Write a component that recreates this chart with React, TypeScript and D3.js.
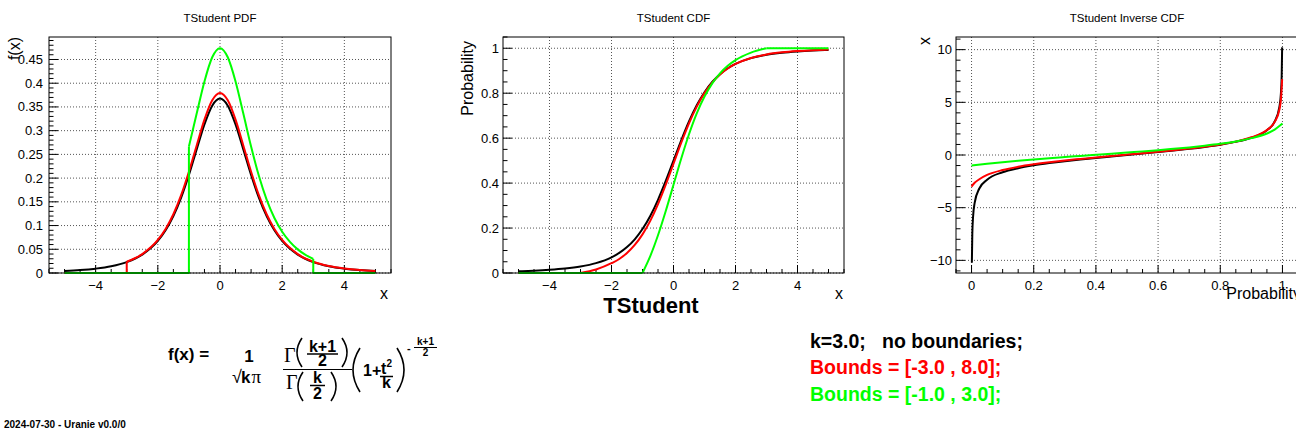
import React from 'react';
import * as d3 from 'd3';

// ---------------- DATA ----------------
const xRange = [-5, 5];
const redBounds = [-3, 8];
const greenBounds = [-1, 3];

// PDF (black: k=3, no boundaries)
const pdfX = [-5, -4.5, -4, -3.5, -3, -2.5, -2, -1.75, -1.5, -1.25, -1, -0.75, -0.5, -0.25, 0, 0.25, 0.5, 0.75, 1, 1.25, 1.5, 1.75, 2, 2.5, 3, 3.5, 4, 4.5, 5];
const pdfBlack = [0.0042, 0.0061, 0.0092, 0.0142, 0.0230, 0.0387, 0.0675, 0.0900, 0.1200, 0.1589, 0.2067, 0.2606, 0.3132, 0.3527, 0.3676, 0.3527, 0.3132, 0.2606, 0.2067, 0.1589, 0.1200, 0.0900, 0.0675, 0.0387, 0.0230, 0.0142, 0.0092, 0.0061, 0.0042];
const pdfRedX = [-3, -2.5, -2, -1.75, -1.5, -1.25, -1, -0.75, -0.5, -0.25, 0, 0.25, 0.5, 0.75, 1, 1.25, 1.5, 1.75, 2, 2.5, 3, 3.5, 4, 4.5, 5];
const pdfRed = [0.0237, 0.0399, 0.0696, 0.0929, 0.1238, 0.1640, 0.2133, 0.2689, 0.3232, 0.3639, 0.3793, 0.3639, 0.3232, 0.2689, 0.2133, 0.1640, 0.1238, 0.0929, 0.0696, 0.0399, 0.0237, 0.0147, 0.0095, 0.0063, 0.0044];
const pdfGreenX = [-1, -0.75, -0.5, -0.25, 0, 0.25, 0.5, 0.75, 1, 1.25, 1.5, 1.75, 2, 2.25, 2.5, 2.75, 3];
const pdfGreen = [0.2665, 0.3360, 0.4038, 0.4547, 0.4738, 0.4547, 0.4038, 0.3360, 0.2665, 0.2048, 0.1547, 0.1160, 0.0870, 0.0656, 0.0498, 0.0382, 0.0296];

// CDF
const cdfX = pdfX;
const cdfBlack = [0.0077, 0.0102, 0.0140, 0.0197, 0.0288, 0.0439, 0.0697, 0.0892, 0.1153, 0.1499, 0.1955, 0.2537, 0.3257, 0.4094, 0.5, 0.5906, 0.6743, 0.7463, 0.8045, 0.8501, 0.8847, 0.9108, 0.9303, 0.9561, 0.9712, 0.9803, 0.9860, 0.9898, 0.9923];
const cdfRedX = pdfRedX;
const cdfRed = [0, 0.0156, 0.0435, 0.0623, 0.0892, 0.1249, 0.1720, 0.2320, 0.3063, 0.3927, 0.4862, 0.5797, 0.6660, 0.7403, 0.8003, 0.8474, 0.8831, 0.9100, 0.9301, 0.9568, 0.9723, 0.9817, 0.9876, 0.9915, 0.9941];
const cdfGreenX = [-1, -0.75, -0.5, -0.25, 0, 0.25, 0.5, 0.75, 1, 1.25, 1.5, 1.75, 2, 2.5, 3];
const cdfGreen = [0, 0.0750, 0.1678, 0.2758, 0.3925, 0.5094, 0.6172, 0.7101, 0.7851, 0.8439, 0.8885, 0.9221, 0.9473, 0.9805, 1.0];

// Inverse CDF
const invBlackP = [0.001, 0.0025, 0.005, 0.01, 0.025, 0.05, 0.1, 0.15, 0.2, 0.25, 0.3, 0.35, 0.4, 0.45, 0.5, 0.55, 0.6, 0.65, 0.7, 0.75, 0.8, 0.85, 0.9, 0.95, 0.975, 0.99, 0.995, 0.9975, 0.999];
const invBlack = [-10.215, -7.453, -5.841, -4.541, -3.182, -2.353, -1.638, -1.25, -0.978, -0.765, -0.584, -0.424, -0.277, -0.137, 0, 0.137, 0.277, 0.424, 0.584, 0.765, 0.978, 1.25, 1.638, 2.353, 3.182, 4.541, 5.841, 7.453, 10.215];
const invRedP = [0, 0.005, 0.01, 0.025, 0.05, 0.1, 0.15, 0.2, 0.25, 0.3, 0.35, 0.4, 0.45, 0.5, 0.55, 0.6, 0.65, 0.7, 0.75, 0.8, 0.85, 0.9, 0.95, 0.975, 0.99, 0.995, 0.999];
const invRed = [-3, -2.8, -2.64, -2.3, -1.895, -1.425, -1.117, -0.884, -0.69, -0.521, -0.374, -0.23, -0.097, 0.037, 0.171, 0.309, 0.454, 0.614, 0.79, 1.0, 1.268, 1.68, 2.37, 3.14, 4.3, 5.25, 7.2];
const invGreenP = [0, 0.05, 0.1, 0.15, 0.2, 0.25, 0.3, 0.35, 0.4, 0.45, 0.5, 0.55, 0.6, 0.65, 0.7, 0.75, 0.8, 0.85, 0.9, 0.95, 0.975, 0.99, 1];
const invGreen = [-1, -0.833, -0.683, -0.548, -0.426, -0.31, -0.198, -0.091, 0.016, 0.123, 0.232, 0.344, 0.46, 0.588, 0.723, 0.883, 1.064, 1.284, 1.6, 2.04, 2.41, 2.745, 3];

// Ticks
const tTicks = [-4, -2, 0, 2, 4];
const pdfYTicks = [0, 0.05, 0.1, 0.15, 0.2, 0.25, 0.3, 0.35, 0.4, 0.45];
const cdfYTicks = [0, 0.2, 0.4, 0.6, 0.8, 1];
const invXTicks = [0, 0.2, 0.4, 0.6, 0.8, 1];
const invYTicks = [-10, -5, 0, 5, 10];

const titles = ['TStudent PDF', 'TStudent CDF', 'TStudent Inverse CDF'];
const legendLines = ['k=3.0;   no boundaries;', 'Bounds = [-3.0 , 8.0];', 'Bounds = [-1.0 , 3.0];'];
const stamp = '2024-07-30 - Uranie v0.0/0';

// ---------------- DRAWING ----------------
const FONT = "'Liberation Sans', Arial, Helvetica, sans-serif";
const SERIF = "'Liberation Serif', 'Times New Roman', serif";
const RED = '#ff0000';
const GREEN = '#00ff00';

type Pt = [number, number];
type Series = { color: string; smooth: Pt[]; lin?: Pt[][] };

const zip = (xs: number[], ys: number[]): Pt[] => xs.map((x, i) => [x, ys[i]] as Pt);
const fmtNum = (v: number) => (v < 0 ? '\u2212' + String(-v) : String(v));

interface PanelProps {
  x0: number; x1: number; y0: number; y1: number;
  xDom: [number, number]; yDom: [number, number];
  xTicks: number[]; xMinor: number; yTicks: number[]; yMinor: number;
  labelGap: number;
  series: Series[];
  title: string;
  clipId?: string;
}

function Panel(p: PanelProps) {
  const xs = d3.scaleLinear().domain(p.xDom).range([p.x0, p.x1]);
  const ys = d3.scaleLinear().domain(p.yDom).range([p.y1, p.y0]);
  const smoothLine = d3.line<Pt>().x(d => xs(d[0])).y(d => ys(d[1])).curve(d3.curveMonotoneX);
  const linLine = d3.line<Pt>().x(d => xs(d[0])).y(d => ys(d[1]));
  const eps = 1e-9;
  const xMinors = d3.range(Math.ceil(p.xDom[0] / p.xMinor - eps) * p.xMinor, p.xDom[1] + eps, p.xMinor);
  const yMinors = d3.range(Math.ceil(p.yDom[0] / p.yMinor - eps) * p.yMinor, p.yDom[1] + eps, p.yMinor);
  const isMajor = (v: number, arr: number[]) => arr.some(t => Math.abs(t - v) < 1e-6);
  return (
    <g clipPath={p.clipId ? `url(#${p.clipId})` : undefined}>
      <text x={(p.x0 + p.x1) / 2} y={22} textAnchor="middle" fontFamily={FONT} fontSize={11.5} fill="#000">{p.title}</text>
      {p.xTicks.map(t => (
        <line key={'gx' + t} x1={xs(t)} x2={xs(t)} y1={p.y0} y2={p.y1} stroke="#555" strokeWidth={1} strokeDasharray="1 2" />
      ))}
      {p.yTicks.map(t => (
        <line key={'gy' + t} x1={p.x0} x2={p.x1} y1={ys(t)} y2={ys(t)} stroke="#555" strokeWidth={1} strokeDasharray="1 2" />
      ))}
      {xMinors.filter(v => !isMajor(v, p.xTicks)).map((v, i) => (
        <line key={'mx' + i} x1={xs(v)} x2={xs(v)} y1={p.y1} y2={p.y1 - 4} stroke="#000" strokeWidth={1} />
      ))}
      {yMinors.filter(v => !isMajor(v, p.yTicks)).map((v, i) => (
        <line key={'my' + i} x1={p.x0} x2={p.x0 + 4.5} y1={ys(v)} y2={ys(v)} stroke="#000" strokeWidth={1} />
      ))}
      {p.xTicks.map(t => (
        <line key={'tx' + t} x1={xs(t)} x2={xs(t)} y1={p.y1} y2={p.y1 - 8} stroke="#000" strokeWidth={1} />
      ))}
      {p.yTicks.map(t => (
        <line key={'ty' + t} x1={p.x0} x2={p.x0 + 9} y1={ys(t)} y2={ys(t)} stroke="#000" strokeWidth={1} />
      ))}
      {p.xTicks.map(t => (
        <text key={'lx' + t} x={xs(t)} y={p.y1 + 17} textAnchor="middle" fontFamily={FONT} fontSize={13} fill="#000">{fmtNum(t)}</text>
      ))}
      {p.yTicks.map(t => (
        <text key={'ly' + t} x={p.x0 - p.labelGap} y={ys(t) + 4.5} textAnchor="end" fontFamily={FONT} fontSize={13} fill="#000">{fmtNum(t)}</text>
      ))}
      {p.series.map((s, i) => (
        <g key={'s' + i} fill="none" stroke={s.color} strokeWidth={2} strokeLinejoin="round">
          {(s.lin || []).map((seg, j) => <path key={j} d={linLine(seg) || ''} />)}
          <path d={smoothLine(s.smooth) || ''} />
        </g>
      ))}
      <rect x={p.x0} y={p.y0} width={p.x1 - p.x0} height={p.y1 - p.y0} fill="none" stroke="#000" strokeWidth={1} />
    </g>
  );
}

// tall thin parenthesis: xi = inner x (ends), xo = outer x (bulge)
function Paren({ xi, xo, y0, y1 }: { xi: number; xo: number; y0: number; y1: number }) {
  const ctrl = 2 * xo - xi;
  return <path d={`M${xi},${y0} Q${ctrl},${(y0 + y1) / 2} ${xi},${y1}`} fill="none" stroke="#000" strokeWidth={1.6} />;
}

function Formula() {
  return (
    <g fontFamily={FONT} fontWeight="bold" fill="#000">
      <text x={168} y={360} fontSize={17}>f(x) =</text>
      <text x={249} y={362} fontSize={17} textAnchor="middle">1</text>
      <text x={232} y={383} fontSize={18} fontWeight="normal">{'\u221A'}</text>
      <text x={241} y={383} fontSize={17}>k</text>
      <text x={251.5} y={383} fontSize={19} fontFamily={SERIF} fontWeight="normal">{'\u03C0'}</text>

      {/* numerator: Gamma((k+1)/2) */}
      <text x={284} y={362} fontSize={20} fontFamily={SERIF} fontWeight="normal">{'\u0393'}</text>
      <Paren xi={302} xo={297} y0={338} y1={367} />
      <text x={322.5} y={351.5} fontSize={16} textAnchor="middle">k+1</text>
      <line x1={307} x2={338} y1={354} y2={354} stroke="#000" strokeWidth={1.5} />
      <text x={322.5} y={366} fontSize={16} textAnchor="middle">2</text>
      <Paren xi={342} xo={347} y0={338} y1={367} />
      <line x1={283} x2={352} y1={369.5} y2={369.5} stroke="#000" strokeWidth={1} />

      {/* denominator: Gamma(k/2) */}
      <text x={286} y={389} fontSize={20} fontFamily={SERIF} fontWeight="normal">{'\u0393'}</text>
      <Paren xi={303} xo={298} y0={372} y1={401} />
      <text x={317.5} y={383} fontSize={16} textAnchor="middle">k</text>
      <line x1={310} x2={325} y1={385.5} y2={385.5} stroke="#000" strokeWidth={1.5} />
      <text x={317.5} y={398.5} fontSize={16} textAnchor="middle">2</text>
      <Paren xi={331} xo={336} y0={372} y1={401} />

      {/* (1 + t^2/k) */}
      <Paren xi={360} xo={353} y0={348} y1={392} />
      <text x={363} y={376} fontSize={16}>1+</text>
      <text x={381} y={373.5} fontSize={16}>t</text>
      <text x={386.5} y={367} fontSize={10}>2</text>
      <line x1={380} x2={393} y1={376.5} y2={376.5} stroke="#000" strokeWidth={1.5} />
      <text x={386.5} y={388} fontSize={16} textAnchor="middle">k</text>
      <Paren xi={397} xo={404} y0={348} y1={392} />

      {/* exponent -(k+1)/2 */}
      <text x={407} y={352} fontSize={11}>-</text>
      <text x={425.5} y={345} fontSize={10} textAnchor="middle">k+1</text>
      <line x1={414} x2={437} y1={347.5} y2={347.5} stroke="#000" strokeWidth={1} />
      <text x={425.5} y={356} fontSize={10} textAnchor="middle">2</text>
    </g>
  );
}

export default function App() {
  const pdfSeries: Series[] = [
    { color: '#000', smooth: zip(pdfX, pdfBlack) },
    { color: RED, smooth: zip(pdfRedX, pdfRed), lin: [[[xRange[0], 0], [redBounds[0], 0], [redBounds[0], pdfRed[0]]]] },
    {
      color: GREEN, smooth: zip(pdfGreenX, pdfGreen),
      lin: [
        [[xRange[0], 0], [greenBounds[0], 0], [greenBounds[0], pdfGreen[0]]],
        [[greenBounds[1], pdfGreen[pdfGreen.length - 1]], [greenBounds[1], 0], [xRange[1], 0]],
      ],
    },
  ];
  const cdfSeries: Series[] = [
    { color: '#000', smooth: zip(cdfX, cdfBlack) },
    { color: RED, smooth: zip(cdfRedX, cdfRed), lin: [[[xRange[0], 0], [redBounds[0], 0]]] },
    {
      color: GREEN, smooth: zip(cdfGreenX, cdfGreen),
      lin: [[[xRange[0], 0], [greenBounds[0], 0]], [[greenBounds[1], 1], [xRange[1], 1]]],
    },
  ];
  const invSeries: Series[] = [
    { color: '#000', smooth: zip(invBlackP, invBlack) },
    { color: RED, smooth: zip(invRedP, invRed) },
    { color: GREEN, smooth: zip(invGreenP, invGreen) },
  ];

  return (
    <svg width={1296} height={432} style={{ position: 'absolute', left: 0, top: 0, background: '#fff' }} xmlns="http://www.w3.org/2000/svg">
      <defs>
        <clipPath id="pad3"><rect x={864} y={0} width={432} height={300} /></clipPath>
      </defs>
      <rect x={0} y={0} width={1296} height={432} fill="#fff" />
      <Panel x0={49} x1={391} y0={37} y1={273} xDom={[-5.5, 5.5]} yDom={[0, 0.4974]}
        xTicks={tTicks} xMinor={0.5} yTicks={pdfYTicks} yMinor={0.01} labelGap={6}
        series={pdfSeries} title={titles[0]} />
      <Panel x0={503} x1={844} y0={37} y1={273} xDom={[-5.5, 5.5]} yDom={[0, 1.05]}
        xTicks={tTicks} xMinor={0.5} yTicks={cdfYTicks} yMinor={0.05} labelGap={4}
        series={cdfSeries} title={titles[1]} />
      <Panel x0={956} x1={1298} y0={37} y1={273} xDom={[-0.05, 1.05]} yDom={[-11.2, 11.2]}
        xTicks={invXTicks} xMinor={0.05} yTicks={invYTicks} yMinor={1} labelGap={4}
        series={invSeries} title={titles[2]} clipId="pad3" />

      {/* axis titles */}
      <text x={388} y={299} textAnchor="end" fontFamily={FONT} fontSize={16}>x</text>
      <text x={843} y={299} textAnchor="end" fontFamily={FONT} fontSize={16}>x</text>
      <g clipPath="url(#pad3)">
        <text x={1301} y={299} textAnchor="end" fontFamily={FONT} fontSize={16}>Probability</text>
      </g>
      <text transform="translate(20,37) rotate(-90)" textAnchor="end" fontFamily={FONT} fontSize={16}>f(x)</text>
      <text transform="translate(473,41) rotate(-90)" textAnchor="end" fontFamily={FONT} fontSize={16}>Probability</text>
      <text transform="translate(930,37) rotate(-90)" textAnchor="end" fontFamily={FONT} fontSize={16}>x</text>

      <text x={651} y={313} textAnchor="middle" fontFamily={FONT} fontWeight="bold" fontSize={22}>TStudent</text>

      <Formula />

      <text x={810} y={348} fontFamily={FONT} fontWeight="bold" fontSize={19.5} fill="#000" style={{ whiteSpace: 'pre' }}>{legendLines[0]}</text>
      <text x={810} y={374} fontFamily={FONT} fontWeight="bold" fontSize={19.5} fill={RED}>{legendLines[1]}</text>
      <text x={810} y={401} fontFamily={FONT} fontWeight="bold" fontSize={19.5} fill={GREEN}>{legendLines[2]}</text>

      <text x={4} y={428} fontFamily={FONT} fontWeight="bold" fontSize={10} fill="#000">{stamp}</text>
    </svg>
  );
}
